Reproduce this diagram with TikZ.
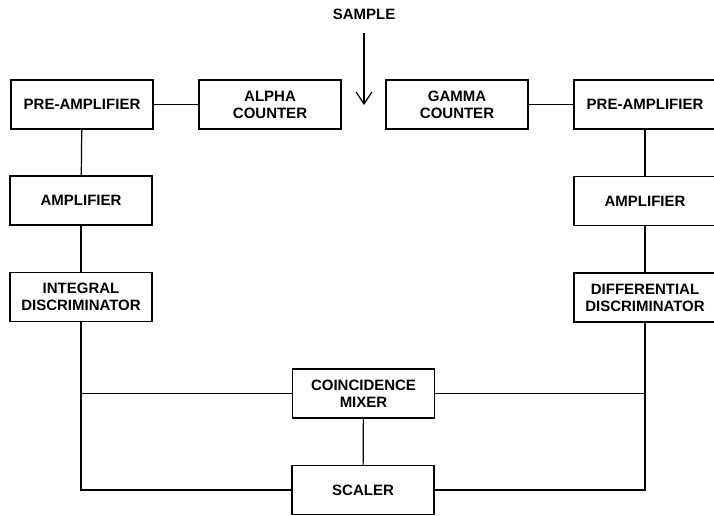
\documentclass[tikz,border=0pt]{standalone}
\usepackage{fontspec}
\setmainfont{Liberation Sans}
\usetikzlibrary{arrows.meta}
\begin{document}
\begin{tikzpicture}[x=1pt,y=-1pt,
  lbl/.style={font=\fontsize{15}{17}\selectfont\bfseries},
  blk/.style={lbl,draw,line width=1.2pt,minimum width=142pt,minimum height=49pt,inner sep=0pt,
    align=center},
  wire/.style={line width=1.2pt}]
\useasboundingbox (0,0) rectangle (714,515);
\node (lpre) [blk] at (82,104.5) {PRE-AMPLIFIER};
\node (alpha) [blk] at (270,104.5) {ALPHA\\COUNTER};
\node (gamma) [blk] at (457,104.5) {GAMMA\\COUNTER};
\node (rpre) [blk] at (645,104.5) {PRE-AMPLIFIER};
\node (lamp) [blk] at (81,200.5) {AMPLIFIER};
\node (lint) [blk] at (81,297) {INTEGRAL\\DISCRIMINATOR};
\node (ramp) [blk] at (645,201) {AMPLIFIER};
\node (rdiff) [blk] at (645,297.5) {DIFFERENTIAL\\DISCRIMINATOR};
\node (coinc) [blk] at (363.5,393.5) {COINCIDENCE\\MIXER};
\node (scaler) [blk] at (363,490) {SCALER};
\node (sample) [lbl] at (364,14) {SAMPLE};
\coordinate (atop) at (364,33);
\coordinate (atip) at (364,105);
\draw[wire,-{Straight Barb[length=12pt,width=16pt]}] (atop) -- (atip);
\draw[wire] (lpre) -- (alpha);
\draw[wire] (gamma) -- (rpre);
\draw[wire] (lpre) -- (lamp);
\draw[wire] (lamp) -- (lint);
\draw[wire] (rpre) -- (ramp);
\draw[wire] (ramp) -- (rdiff);
\draw[wire] (lint.south) |- (scaler.west);
\draw[wire] (coinc.west) -- (coinc.west -| lint.south);
\draw[wire] (rdiff.south) |- (scaler.east);
\draw[wire] (coinc.east) -- (coinc.east -| rdiff.south);
\draw[wire] (coinc) -- (scaler);
\end{tikzpicture}
\end{document}
